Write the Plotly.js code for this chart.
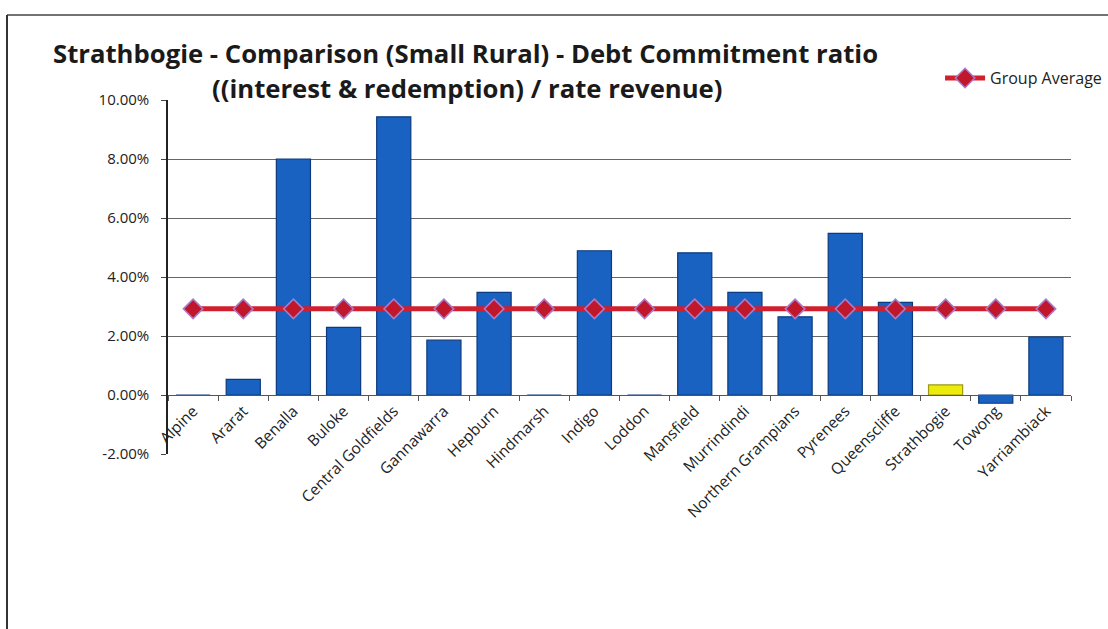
<!DOCTYPE html>
<html>
<head>
<meta charset="utf-8">
<script src="https://cdn.plot.ly/plotly-3.0.1.min.js"></script>
<style>
  html, body { margin: 0; padding: 0; background: #ffffff; }
  #chart { width: 1108px; height: 629px; }
</style>
</head>
<body>
<div id="chart"></div>
<script>
// Debt commitment ratio (%) by council
const councils = ["Alpine", "Ararat", "Benalla", "Buloke", "Central Goldfields", "Gannawarra",
  "Hepburn", "Hindmarsh", "Indigo", "Loddon", "Mansfield", "Murrindindi",
  "Northern Grampians", "Pyrenees", "Queenscliffe", "Strathbogie", "Towong", "Yarriambiack"];
const ratioValues = [0, 0.53, 8.00, 2.29, 9.43, 1.86, 3.48, 0, 4.89, 0, 4.82, 3.48,
  2.65, 5.48, 3.14, 0.34, -0.28, 1.96];
const groupAverage = [2.92, 2.92, 2.92, 2.92, 2.92, 2.92, 2.92, 2.92, 2.92, 2.92, 2.92, 2.92,
  2.92, 2.92, 2.92, 2.92, 2.92, 2.92];
const highlightCouncil = "Strathbogie";
const yTickValues = [-2, 0, 2, 4, 6, 8, 10];
const yTickLabels = ["-2.00%", "0.00%", "2.00%", "4.00%", "6.00%", "8.00%", "10.00%"];

const barColors = councils.map(c => c === highlightCouncil ? "#EDEB0C" : "#1A62C2");
const barLines = councils.map(c => c === highlightCouncil ? "#9C9A10" : "#0B3A7E");

const FONT = "'Open Sans', Calibri, Lato, sans-serif";

const traces = [
  {
    type: "bar",
    x: councils,
    y: ratioValues,
    width: 0.68,
    marker: { color: barColors, line: { color: barLines, width: 1.2 } },
    showlegend: false,
    hoverinfo: "x+y"
  },
  {
    type: "scatter",
    mode: "lines+markers",
    name: "Group Average",
    x: councils,
    y: groupAverage,
    line: { color: "#D01F2E", width: 5 },
    marker: { symbol: "diamond", size: 15, color: "#C0172B", line: { color: "#A97BC8", width: 1.5 } }
  }
];

const layout = {
  width: 1108,
  height: 629,
  paper_bgcolor: "#ffffff",
  plot_bgcolor: "#ffffff",
  margin: { l: 168, r: 37, t: 100, b: 175, autoexpand: false },
  font: { family: FONT, color: "#222222", size: 14 },
  title: {
    text: "<b>Strathbogie - Comparison (Small Rural) - Debt Commitment ratio</b>",
    font: { family: FONT, size: 25.7, color: "#1a1a1a" },
    xref: "paper", x: 0.3295, xanchor: "center",
    yref: "container", y: 0.9285, yanchor: "top"
  },
  annotations: [
    {
      text: "<b>((interest & redemption) / rate revenue)</b>",
      font: { family: FONT, size: 25.7, color: "#1a1a1a" },
      xref: "paper", x: 0.3306, xanchor: "center",
      yref: "paper", y: 0.978, yanchor: "bottom",
      showarrow: false
    }
  ],
  showlegend: true,
  legend: {
    x: 0.855, xanchor: "left", y: 1.062, yanchor: "middle",
    font: { family: FONT, size: 16, color: "#222222" },
    bgcolor: "rgba(0,0,0,0)", itemwidth: 40
  },
  xaxis: {
    type: "category",
    range: [-0.5, 17.5],
    anchor: "free",
    position: 2 / 12,
    showline: true, linecolor: "#555555", linewidth: 1,
    ticks: "outside", ticklen: 5, tickcolor: "#555555",
    tickson: "boundaries",
    tickangle: -45,
    tickfont: { family: FONT, size: 15.5, color: "#222222" },
    showgrid: false, zeroline: false
  },
  yaxis: {
    range: [-2, 10],
    tickvals: yTickValues,
    ticktext: yTickLabels,
    showline: true, linecolor: "#222222", linewidth: 1.5,
    ticks: "outside", ticklen: 5, tickcolor: "#444444",
    ticklabelstandoff: 9,
    showgrid: true, gridcolor: "#666666", gridwidth: 1,
    zeroline: false,
    tickfont: { family: FONT, size: 15, color: "#222222" }
  },
  shapes: [
    { type: "line", xref: "paper", yref: "paper", x0: -0.1783, x1: 1.05, y0: 1.240, y1: 1.240,
      line: { color: "#444444", width: 1.5 } },
    { type: "line", xref: "paper", yref: "paper", x0: -0.1783, x1: -0.1783, y0: 1.240, y1: -0.50,
      line: { color: "#333333", width: 2 } }
  ],
  bargap: 0.3
};

Plotly.newPlot("chart", traces, layout, { displayModeBar: false, responsive: false });
</script>
</body>
</html>
